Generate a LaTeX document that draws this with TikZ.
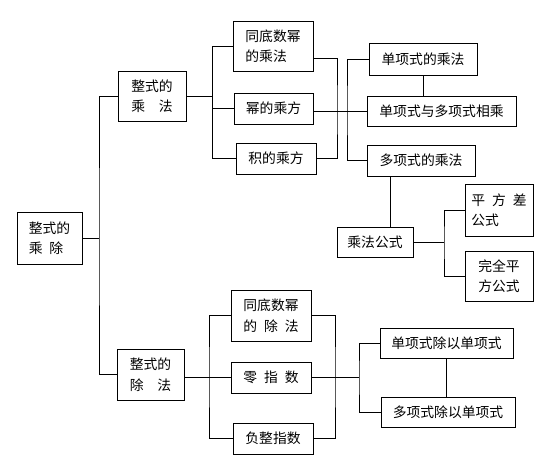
\documentclass[tikz,border=0pt]{standalone}
\usepackage{fontspec}
\newfontfamily\cjk{Noto Sans CJK SC}
\tikzset{
  box/.style={draw, line width=1pt, inner sep=2pt, align=left,
    font=\cjk\fontsize{13.8}{20.5}\selectfont},
  link/.style={line width=1pt}
}
\begin{document}
\begin{tikzpicture}[x=1pt, y=-1pt]
    \useasboundingbox (0,0) rectangle (548,471);

    % Root and the two main branches
    \node[box, minimum width=65pt, minimum height=52pt] (root) at (49.5,238) {整式的\\乘\enspace 除};
    \node[box, minimum width=68pt, minimum height=50pt] (mul) at (152,96) {整式的\\乘　法};
    \node[box, minimum width=67pt, minimum height=51pt] (div) at (150.5,374.5) {整式的\\除　法};

    % Multiplication branch
    \node[box, minimum width=80pt, minimum height=50pt] (tdm) at (273,46) {同底数幂\\的乘法};
    \node[box, minimum width=79pt, minimum height=31pt] (mpow) at (273.5,108.5) {幂的乘方};
    \node[box, minimum width=80pt, minimum height=31pt] (jpow) at (276,158.5) {积的乘方};

    \node[box, minimum width=108pt, minimum height=32pt] (dxm) at (423,59) {单项式的乘法};
    \node[box, minimum width=149pt, minimum height=30pt] (dyd) at (441.5,111) {单项式与多项式相乘};
    \node[box, minimum width=108pt, minimum height=31pt] (ddx) at (421,160.5) {多项式的乘法};

    \node[box, minimum width=76pt, minimum height=30pt] (gs) at (375,242) {乘法公式};
    \node[box, minimum width=68pt, minimum height=52pt] (pfc) at (499,210) {平\enspace 方\enspace 差\\公式};
    \node[box, minimum width=68pt, minimum height=50pt] (wq) at (499,276) {完全平\\方公式};

    % Division branch
    \node[box, minimum width=80pt, minimum height=51pt] (tdc) at (271,315.5) {同底数幂\\的\enspace 除\enspace 法};
    \node[box, minimum width=80pt, minimum height=31pt] (ling) at (271,377.5) {零\enspace 指\enspace 数};
    \node[box, minimum width=80pt, minimum height=31pt] (fu) at (273,438.5) {负整指数};

    \node[box, minimum width=133pt, minimum height=30pt] (dcd) at (446.5,343) {单项式除以单项式};
    \node[box, minimum width=134pt, minimum height=30pt] (ddc) at (448,412) {多项式除以单项式};

    % Bus points
    \coordinate (b1) at (99,238);
    \coordinate (b2) at (212,96);
    \coordinate (b3) at (337,111);
    \coordinate (b4) at (347,111);
    \coordinate (b5) at (444,242);
    \coordinate (b6) at (209,377.5);
    \coordinate (b7) at (335,377.5);
    \coordinate (b8) at (359,377.5);

    % Connectors
    \draw[link] (root.east) -- (b1);
    \draw[link] (mul.west) -| (b1) |- (div.west);

    \draw[link] (mul.east) -- (mul.east -| b2);
    \draw[link] (tdm.west) -- (tdm.west -| b2) |- (jpow.west);
    \draw[link] (mpow.west) -- (mpow.west -| b2);

    \draw[link] ([yshift=-12pt]tdm.east) -| (b3) |- (jpow.east);
    \draw[link] (mpow.east |- dyd.west) -- (dyd.west);
    \draw[link] (dxm.west) -| (b4) |- (ddx.west);
    \draw[link] (dxm.south) -- (dxm.south |- dyd.north);

    \draw[link] ([xshift=15pt]gs.north) -- ([xshift=15pt]gs.north |- ddx.south);
    \draw[link] (gs.east) -- (b5);
    \draw[link] (pfc.west) -| (b5) |- (wq.west);

    \draw[link] (div.east |- ling.west) -- (ling.west);
    \draw[link] (tdc.west) -| (b6) |- (fu.west);

    \draw[link] (tdc.east) -| (b7) |- (fu.east);
    \draw[link] (ling.east) -- (b8);
    \draw[link] (dcd.west) -| (b8) |- (ddc.west);
    \draw[link] (dcd.south) -- (dcd.south |- ddc.north);
\end{tikzpicture}
\end{document}
